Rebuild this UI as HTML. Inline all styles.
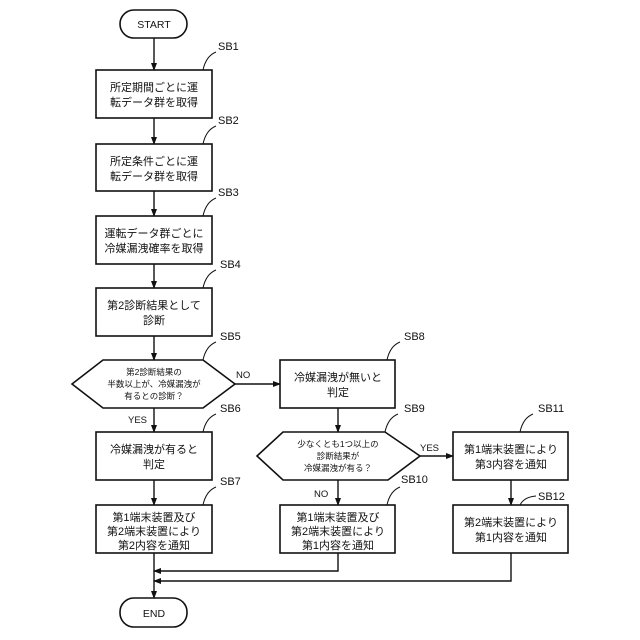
<!DOCTYPE html>
<html><head><meta charset="utf-8"><style>
html,body{margin:0;padding:0;background:#fff}
svg{display:block}
text{font-family:"Liberation Sans","Noto Sans CJK JP",sans-serif;fill:#111}
.b{font-size:11px}
.s{font-size:8.5px}
.l{font-size:11px}
</style></head><body>
<svg width="640" height="640" viewBox="0 0 640 640" xmlns="http://www.w3.org/2000/svg">
<defs><marker id="a" markerWidth="8" markerHeight="8" refX="7" refY="4" orient="auto" markerUnits="userSpaceOnUse"><path d="M0,1 L8,4 L0,7 Z" fill="#111"/></marker></defs>
<g fill="none" stroke="#111" stroke-width="1.6">
<rect x="120" y="10" width="67" height="28" rx="14"/>
<rect x="120" y="598" width="67" height="29" rx="14"/>
<rect x="96" y="70" width="116" height="48"/>
<rect x="96" y="144" width="116" height="47"/>
<rect x="96" y="216" width="116" height="48"/>
<rect x="96" y="288" width="116" height="48"/>
<polygon points="72,384 103,360 203,360 235,384 203,408 103,408"/>
<rect x="280" y="360" width="115" height="48"/>
<rect x="96" y="432" width="116" height="48"/>
<rect x="96" y="505" width="116" height="48"/>
<polygon points="257,456 283,432 385,432 420,456 388,480 283,480"/>
<rect x="280" y="505" width="115" height="48"/>
<rect x="453" y="432" width="115" height="48"/>
<rect x="453" y="505" width="115" height="48"/>
</g>
<g fill="none" stroke="#111" stroke-width="1.4">
<line x1="154" y1="38" x2="154" y2="70" marker-end="url(#a)"/>
<line x1="154" y1="118" x2="154" y2="144" marker-end="url(#a)"/>
<line x1="154" y1="191" x2="154" y2="216" marker-end="url(#a)"/>
<line x1="154" y1="264" x2="154" y2="288" marker-end="url(#a)"/>
<line x1="154" y1="336" x2="154" y2="360" marker-end="url(#a)"/>
<line x1="154" y1="408" x2="154" y2="432" marker-end="url(#a)"/>
<line x1="154" y1="480" x2="154" y2="505" marker-end="url(#a)"/>
<line x1="154" y1="553" x2="154" y2="598" marker-end="url(#a)"/>
<line x1="235" y1="384" x2="280" y2="384" marker-end="url(#a)"/>
<line x1="338" y1="408" x2="338" y2="432" marker-end="url(#a)"/>
<line x1="338" y1="480" x2="338" y2="505" marker-end="url(#a)"/>
<line x1="420" y1="456" x2="453" y2="456" marker-end="url(#a)"/>
<line x1="511" y1="480" x2="511" y2="505" marker-end="url(#a)"/>
<polyline points="338,553 338,571 154,571" marker-end="url(#a)"/>
<polyline points="511,553 511,581 154,581" marker-end="url(#a)"/>
<g stroke-width="1">
<path d="M203,70 Q206,56 216,52"/>
<path d="M203,144 Q206,130 216,126"/>
<path d="M203,216 Q206,202 216,198"/>
<path d="M203,288 Q206,274 216,270"/>
<path d="M203,360 Q206,346 216,342"/>
<path d="M203,432 Q206,418 216,414"/>
<path d="M203,505 Q206,491 216,487"/>
<path d="M387,360 Q390,346 400,342"/>
<path d="M385,432 Q388,418 398,414"/>
<path d="M387,505 Q390,491 400,487"/>
<path d="M520,432 Q523,418 533,414"/>
<path d="M520,505 Q524,497 536,496"/>
</g>
</g>
<g class="l">
<text x="218" y="50">SB1</text><text x="218" y="124">SB2</text><text x="218" y="196">SB3</text><text x="220" y="268">SB4</text>
<text x="220" y="340">SB5</text><text x="220" y="412">SB6</text><text x="220" y="485">SB7</text>
<text x="404" y="340">SB8</text><text x="404" y="412">SB9</text><text x="401" y="483">SB10</text>
<text x="538" y="412">SB11</text><text x="538" y="500">SB12</text>
</g>
<g text-anchor="middle">
<text class="b" x="154" y="28" style="font-size:10.5px">START</text>
<text class="b" x="154" y="617" style="font-size:10.5px">END</text>
<text class="b" x="154" y="91">所定期間ごとに運</text><text class="b" x="154" y="106">転データ群を取得</text>
<text class="b" x="154" y="165">所定条件ごとに運</text><text class="b" x="154" y="180">転データ群を取得</text>
<text class="b" x="154" y="237">運転データ群ごとに</text><text class="b" x="154" y="252">冷媒漏洩確率を取得</text>
<text class="b" x="154" y="309">第2診断結果として</text><text class="b" x="154" y="324">診断</text>
<text class="s" x="154" y="375">第2診断結果の</text><text class="s" x="154" y="387">半数以上が、冷媒漏洩が</text><text class="s" x="154" y="399">有るとの診断？</text>
<text class="b" x="338" y="381">冷媒漏洩が無いと</text><text class="b" x="338" y="396">判定</text>
<text class="b" x="154" y="453">冷媒漏洩が有ると</text><text class="b" x="154" y="468">判定</text>
<text class="b" x="154" y="521">第1端末装置及び</text><text class="b" x="154" y="535">第2端末装置により</text><text class="b" x="154" y="549">第2内容を通知</text>
<text class="s" x="338" y="447">少なくとも1つ以上の</text><text class="s" x="338" y="459">診断結果が</text><text class="s" x="338" y="471">冷媒漏洩が有る？</text>
<text class="b" x="338" y="521">第1端末装置及び</text><text class="b" x="338" y="535">第2端末装置により</text><text class="b" x="338" y="549">第1内容を通知</text>
<text class="b" x="511" y="453">第1端末装置により</text><text class="b" x="511" y="468">第3内容を通知</text>
<text class="b" x="511" y="526">第2端末装置により</text><text class="b" x="511" y="541">第1内容を通知</text>
</g>
<g style="font-size:9.5px">
<text x="236" y="378">NO</text>
<text x="128" y="423">YES</text>
<text x="420" y="451">YES</text>
<text x="314" y="497">NO</text>
</g>
</svg>
</body></html>
